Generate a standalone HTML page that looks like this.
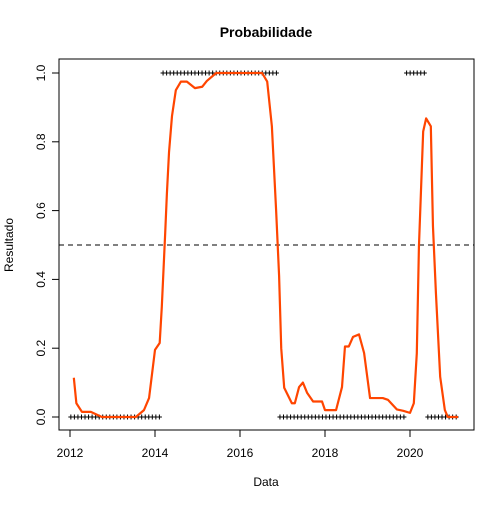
<!DOCTYPE html>
<html><head><meta charset="utf-8"><style>
body{margin:0;background:#fff}
svg text{font-family:"Liberation Sans",sans-serif;font-size:12px;fill:#000}
</style></head><body>
<svg id="chart" width="504" height="504" xmlns="http://www.w3.org/2000/svg">
<rect width="504" height="504" fill="#fff"/>
<text x="266" y="37" text-anchor="middle" font-weight="bold" style="font-size:14px">Probabilidade</text>
<text x="266" y="486" text-anchor="middle">Data</text>
<text transform="translate(13,245) rotate(-90)" text-anchor="middle">Resultado</text>
<g id="plot"></g>
<rect x="59" y="59" width="415" height="371" fill="none" stroke="#000"/>
</svg>
<script>
const xTicks=[2012,2014,2016,2018,2020];
const yTicks=[0,0.2,0.4,0.6,0.8,1.0];
const yTickLabels=["0.0","0.2","0.4","0.6","0.8","1.0"];
const years=[2012.09,2012.15,2012.28,2012.49,2012.75,2013.55,2013.74,2013.86,2014.0,2014.11,2014.16,2014.24,2014.28,2014.33,2014.40,2014.49,2014.61,2014.75,2014.94,2015.11,2015.22,2015.44,2016.52,2016.64,2016.75,2016.85,2016.92,2016.97,2017.04,2017.22,2017.29,2017.39,2017.48,2017.58,2017.72,2017.93,2018.0,2018.26,2018.40,2018.47,2018.56,2018.66,2018.80,2018.92,2019.06,2019.36,2019.48,2019.69,2019.84,2020.0,2020.09,2020.16,2020.21,2020.28,2020.31,2020.38,2020.49,2020.54,2020.61,2020.71,2020.82,2020.89,2021.13];
const probs=[0.114,0.04,0.015,0.015,0.0,0.0,0.02,0.055,0.195,0.215,0.32,0.535,0.65,0.77,0.875,0.95,0.975,0.975,0.956,0.96,0.977,1.0,1.0,0.975,0.845,0.60,0.41,0.2,0.085,0.04,0.04,0.087,0.10,0.07,0.045,0.045,0.02,0.02,0.087,0.205,0.205,0.233,0.24,0.186,0.055,0.055,0.05,0.022,0.018,0.012,0.04,0.185,0.495,0.73,0.83,0.868,0.845,0.555,0.36,0.117,0.02,0.0,0.0];
const rugStart=[2012.02,2014.19,2016.94,2019.92,2020.42];
const rugEnd=[2014.16,2016.92,2019.90,2020.39,2021.15];
const rugValue=[0,1,0,1,0];
const threshold=0.5;

const X=v=>70+(v-2012)*42.5;
const Y=v=>417-v*344;
const NS="http://www.w3.org/2000/svg";
const g=document.getElementById('plot');
function mk(t,a){const e=document.createElementNS(NS,t);for(const k in a)e.setAttribute(k,a[k]);g.appendChild(e);return e;}

xTicks.forEach(t=>{
  const l=mk('line',{x1:X(t),x2:X(t),y1:430,y2:437,stroke:'#000'});
  
  
  const tx=mk('text',{x:X(t),y:457,'text-anchor':'middle'});tx.textContent=t;
  
  
});
const xa=mk('line',{x1:X(2012),x2:X(2020),y1:430,y2:430,stroke:'#000'});


yTicks.forEach((t,i)=>{
  const l=mk('line',{x1:52,x2:59,y1:Y(t),y2:Y(t),stroke:'#000'});
  
  
  const tx=mk('text',{transform:`translate(45,${Y(t)}) rotate(-90)`,'text-anchor':'middle'});tx.textContent=yTickLabels[i];
  
  
});
const dl=mk('line',{x1:59,x2:474,y1:Y(threshold),y2:Y(threshold),stroke:'#000','stroke-dasharray':'5,4'});



rugStart.forEach((s,i)=>{
  let d='';
  for(let t=s;t<=rugEnd[i]+1e-6;t+=1/12){const x=X(t),y=Y(rugValue[i]);d+=`M${x-2.5},${y}h5M${x},${y-2.5}v5`;}
  const p=mk('path',{d:d,stroke:'#000','stroke-width':1,fill:'none'});
  
  
});

const pl=mk('polyline',{points:years.map((y,i)=>X(y)+','+Y(probs[i])).join(' '),fill:'none',stroke:'#ff4500','stroke-width':2.2,'stroke-linejoin':'round'});


</script>
</body></html>
